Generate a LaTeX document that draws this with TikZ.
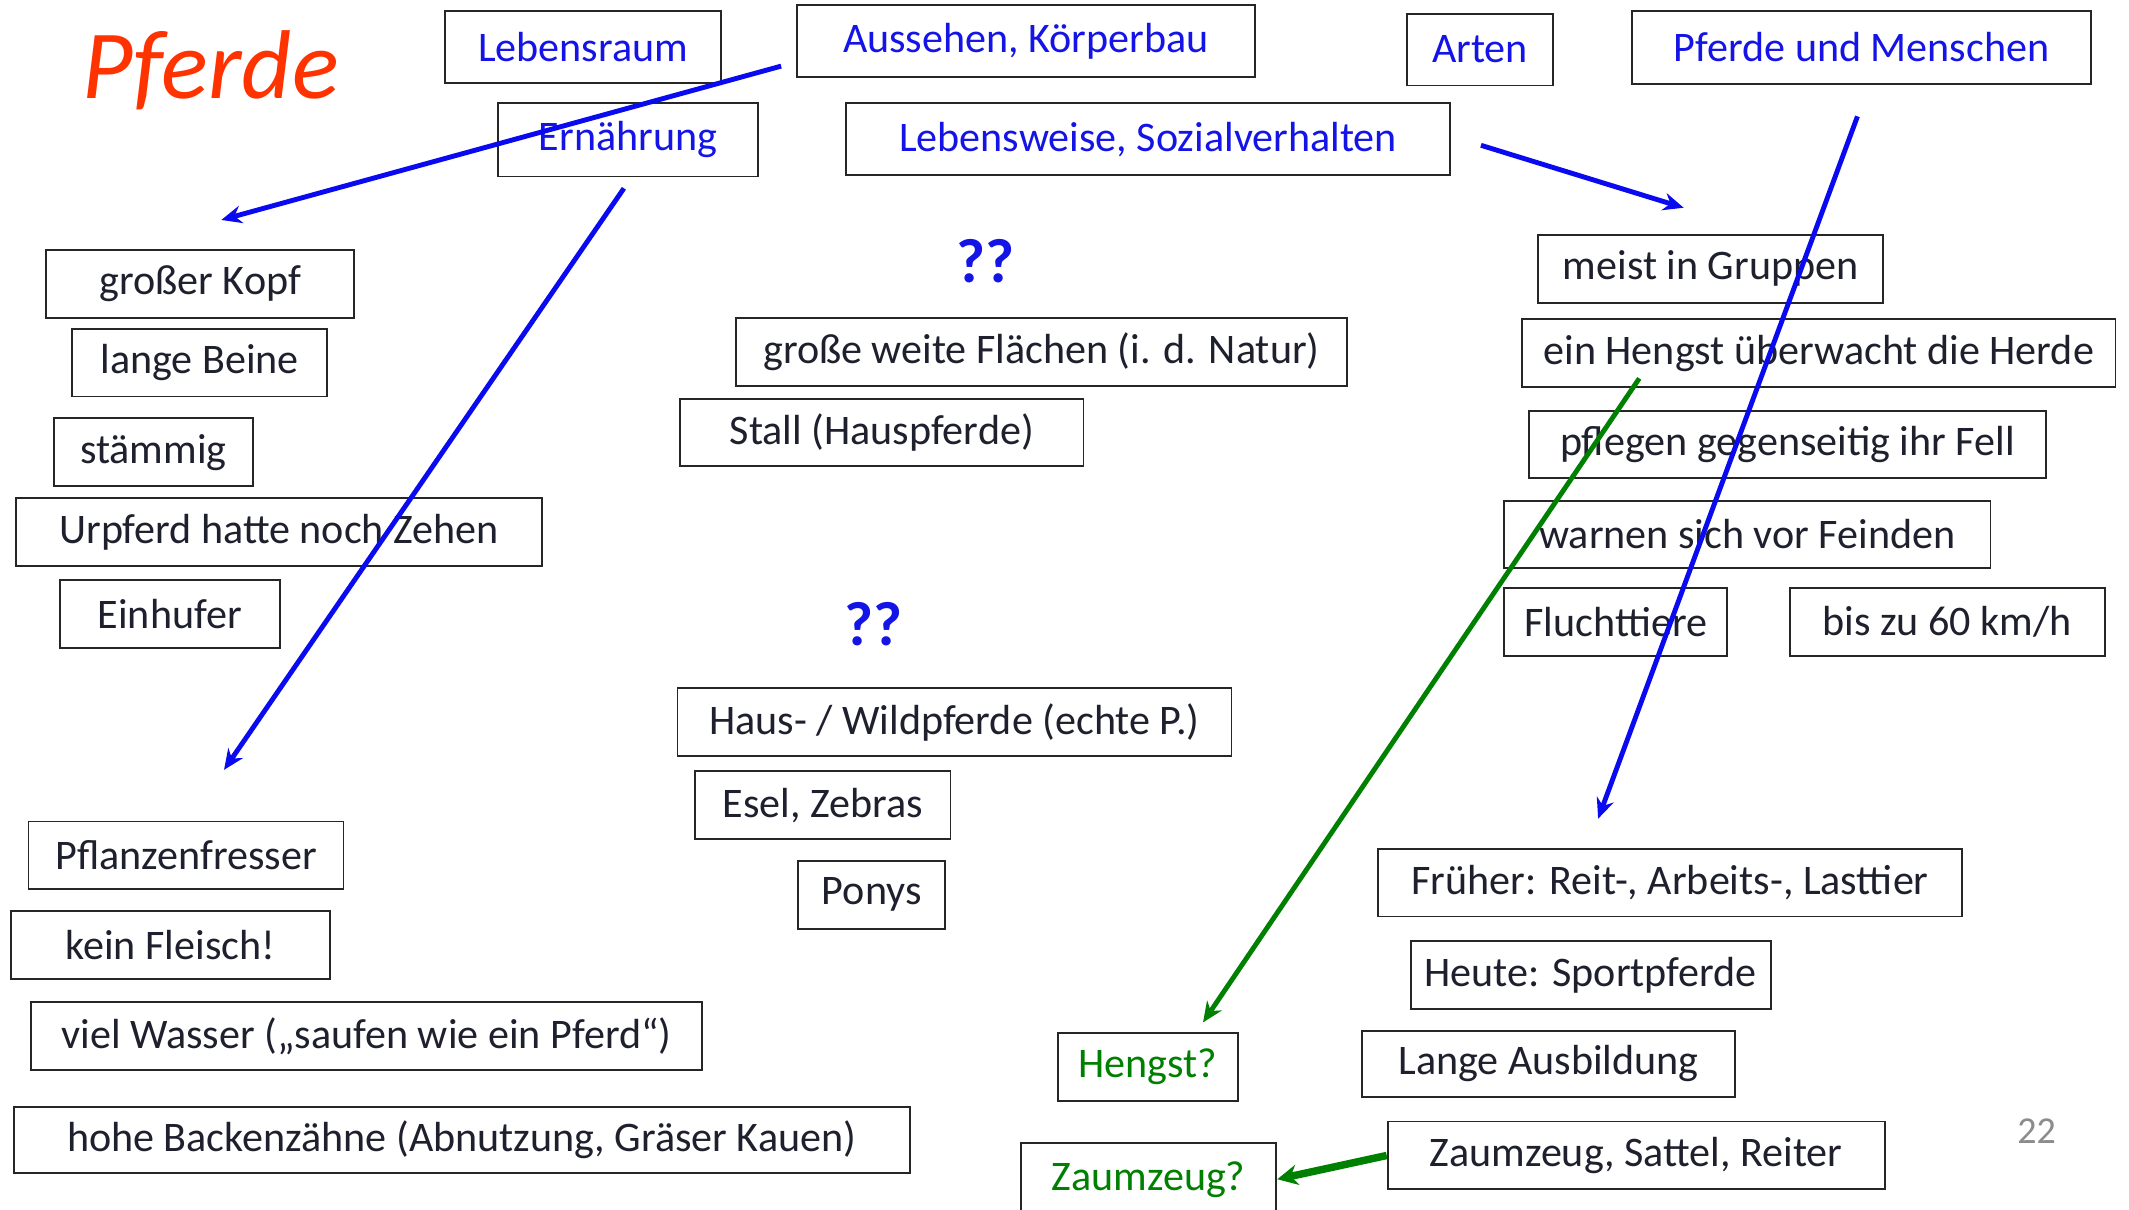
\documentclass[tikz,border=0pt]{standalone}
\usepackage{fontspec}
\setmainfont{Carlito}
\usetikzlibrary{arrows.meta,calc}
\definecolor{hdrblue}{RGB}{20,20,230}
\definecolor{arrblue}{RGB}{10,10,240}
\definecolor{txtdark}{RGB}{30,32,45}
\definecolor{grn}{RGB}{0,128,0}
\definecolor{titlered}{RGB}{255,51,0}
\definecolor{pagegray}{RGB}{140,140,140}
\tikzset{
  box/.style={draw=black!85, line width=1.4pt, inner sep=0pt, font=\fontsize{31}{35}\selectfont, text=txtdark},
  hdr/.style={box, text=hdrblue},
  grnbox/.style={box, text=grn},
  qq/.style={font=\fontsize{46}{50}\selectfont\bfseries, text=hdrblue, inner sep=0pt},
  bconn/.style={line width=3.6pt, draw=arrblue, -{Stealth[length=15pt,width=13pt]}},
  gconn/.style={line width=3.6pt, draw=grn, -{Stealth[length=15pt,width=13pt]}},
  gconnthick/.style={line width=5.5pt, draw=grn, -{Stealth[length=15pt,width=15pt]}}
}
\begin{document}
\begin{tikzpicture}[x=1pt,y=-1pt]
\useasboundingbox[fill=white] (0,0) rectangle (1568,891);
% title
\node[text=titlered, font=\fontsize{72}{76}\selectfont\itshape, inner sep=0pt] (title) at (155,52) {Pferde};
% headers
\node[hdr, minimum width=203pt, minimum height=53pt] (leb) at (429.5,34.5) {Lebensraum};
\node[hdr, minimum width=337pt, minimum height=53pt] (aus) at (755.5,30.5) {Aussehen, Körperbau};
\node[hdr, minimum width=108pt, minimum height=53pt] (arten) at (1090,36.5) {Arten};
\node[hdr, minimum width=338pt, minimum height=54pt] (pum) at (1371,35) {Pferde und Menschen};
\node[hdr, minimum width=191pt, minimum height=54pt] (ern) at (462.5,103) {Ernährung};
\node[hdr, minimum width=445pt, minimum height=53pt] (lws) at (845.5,102.5) {Lebensweise, Sozialverhalten};
% question marks
\node[qq] (q1) at (726,192) {??};
\node[qq] (q2) at (643,460) {??};
% Aussehen
\node[box, minimum width=227pt, minimum height=50pt] (kopf) at (147.5,209) {großer Kopf};
\node[box, minimum width=188pt, minimum height=50pt] (beine) at (147,267) {lange Beine};
\node[box, minimum width=146pt, minimum height=50pt] (staemmig) at (113,333) {stämmig};
\node[box, minimum width=387pt, minimum height=50pt] (urpferd) at (205.5,392) {Urpferd hatte noch Zehen};
\node[box, minimum width=162pt, minimum height=50pt] (einhufer) at (125,452) {Einhufer};
% Lebensraum
\node[box, minimum width=450pt, minimum height=50pt] (flaechen) at (767,259) {große weite Flächen (i. d. Natur)};
\node[box, minimum width=297pt, minimum height=49pt] (stall) at (649.5,318.5) {Stall (Hauspferde)};
% Arten
\node[box, minimum width=408pt, minimum height=50pt] (haus) at (703,532) {Haus- / Wildpferde (echte P.)};
\node[box, minimum width=188pt, minimum height=50pt] (esel) at (606,593) {Esel, Zebras};
\node[box, minimum width=108pt, minimum height=50pt] (ponys) at (642,659) {Ponys};
% Lebensweise
\node[box, minimum width=254pt, minimum height=50pt] (gruppen) at (1260,198) {meist in Gruppen};
\node[box, minimum width=437pt, minimum height=50pt] (hengst) at (1339.5,260) {ein Hengst überwacht die Herde};
\node[box, minimum width=381pt, minimum height=49pt] (fell) at (1316.5,327.5) {pflegen gegenseitig ihr Fell};
\node[box, minimum width=358pt, minimum height=49pt] (feinde) at (1287,393.5) {warnen sich vor Feinden};
\node[box, minimum width=164pt, minimum height=50pt] (flucht) at (1190,458) {Fluchttiere};
\node[box, minimum width=232pt, minimum height=50pt] (kmh) at (1434,458) {bis zu 60 km/h};
% Pferde und Menschen
\node[box, minimum width=430pt, minimum height=50pt] (frueher) at (1230,650) {Früher: Reit-, Arbeits-, Lasttier};
\node[box, minimum width=265pt, minimum height=50pt] (heute) at (1171.5,718) {Heute: Sportpferde};
\node[box, minimum width=275pt, minimum height=49pt] (ausb) at (1140.5,783.5) {Lange Ausbildung};
\node[box, minimum width=366pt, minimum height=50pt] (zsr) at (1205,851) {Zaumzeug, Sattel, Reiter};
\node[grnbox, minimum width=133pt, minimum height=50pt] (hq) at (845.5,786) {Hengst?};
\node[grnbox, minimum width=188pt, minimum height=53pt] (zq) at (846,868.5) {Zaumzeug?};
% Ernährung
\node[box, minimum width=232pt, minimum height=50pt] (pflanz) at (137,630) {Pflanzenfresser};
\node[box, minimum width=235pt, minimum height=50pt] (fleisch) at (125.5,696) {kein Fleisch!};
\node[box, minimum width=494pt, minimum height=50pt] (wasser) at (270,763) {viel Wasser („saufen wie ein Pferd“)};
\node[box, minimum width=660pt, minimum height=49pt] (backen) at (340,839.5) {hohe Backenzähne (Abnutzung, Gräser Kauen)};
% page number
\node[text=pagegray, font=\fontsize{28}{30}\selectfont, inner sep=0pt] (pnum) at (1500,833) {22};
% free arrow ends
\coordinate (e1) at (163,162);
\coordinate (e2) at (165,567);
\coordinate (e3) at (1240,153);
\coordinate (e4) at (1177,603);
\coordinate (e5) at (886,753);
% connectors
\draw[bconn] ($(aus.south west)+(-11,-9)$) -- (e1);
\draw[bconn] ($(ern.south)+(-3,8)$) -- (e2);
\draw[bconn] ($(lws.east)+(22,4.5)$) -- (e3);
\draw[bconn] ($(pum.south)+(-3,23)$) -- (e4);
\draw[gconn] ($(hengst.south west)+(87,-7)$) -- (e5);
\draw[gconnthick] (zsr.west) -- (zq.east);
\end{tikzpicture}
\end{document}
